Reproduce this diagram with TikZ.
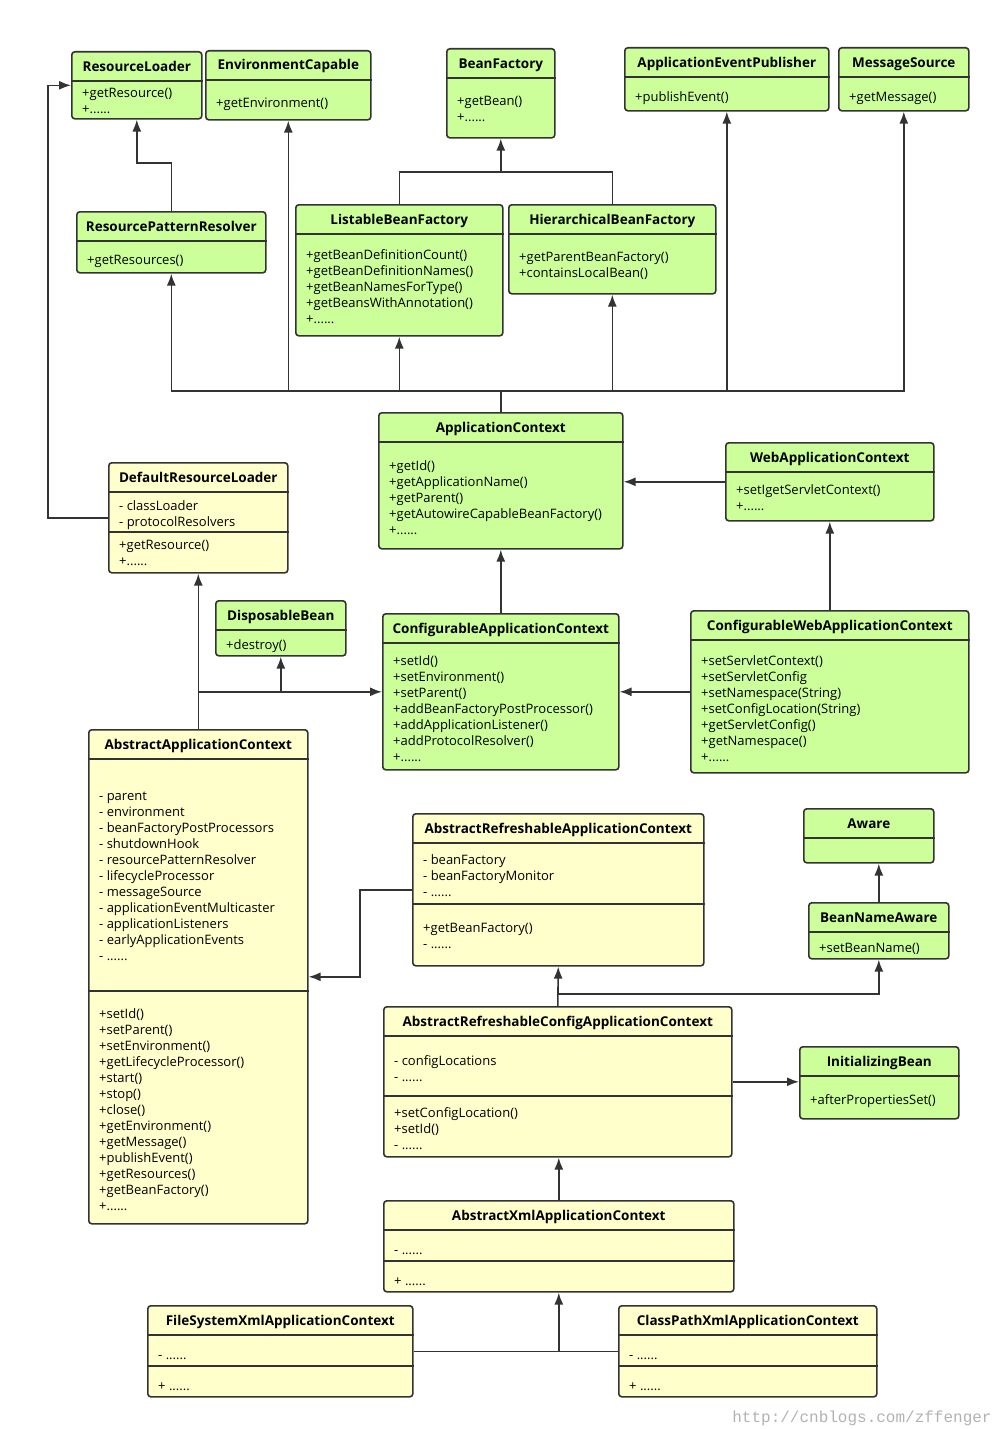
\documentclass[tikz,border=0pt]{standalone}
\usepackage{fontspec}
\setmainfont{Open Sans}
\setmonofont{Liberation Mono}
\usetikzlibrary{arrows.meta,calc,positioning}

\definecolor{ifacegreen}{RGB}{204,255,153}
\definecolor{classyellow}{RGB}{255,255,204}
\definecolor{umlline}{RGB}{51,51,51}

% box, title and header line of one class
\newcommand{\umlclass}[7]{%
  \node[#2, minimum width=#5, minimum height=#6] (#1) at (#3,#4) {};
  \node[classname] (#1-title) at ([yshift=-17]#1.north) {#7};
  \draw[compartment] ([yshift=-30]#1.north west) -- ([yshift=-30]#1.north east);
}
% one more line across the box, #2 below its top
\newcommand{\umlsep}[2]{%
  \draw[compartment] ([yshift=-#2]#1.north west) -- ([yshift=-#2]#1.north east);
}
% attributes or operations, #2 = middle of the first line below the top
\newcommand{\umlmembers}[3]{%
  \node[members] (#1-m#2) at ([shift={(11,#2-3.5)}]#1.north west) {#3};
}

\begin{document}
\begin{tikzpicture}[
    x=1pt, y=-1pt,
    arrowstyle/.style={draw=umlline, line width=1.6pt, -{Latex[length=12pt,width=9pt]}},
    connector/.style={draw=umlline, line width=1.6pt},
    iface/.style={rectangle, draw=umlline, line width=1.6pt, fill=ifacegreen,
        rounded corners=3pt, anchor=north west, inner sep=0pt},
    impl/.style={iface, fill=classyellow},
    classname/.style={font=\bfseries\fontsize{13.5}{15}\selectfont, text height=9pt, text depth=3pt},
    compartment/.style={draw=umlline, line width=1.6pt},
    members/.style={anchor=north west, inner sep=0pt, align=left,
        font=\fontsize{13}{16}\selectfont, execute at begin node=\strut},
    watermark/.style={font=\ttfamily\fontsize{16}{16}\selectfont, text=black!30}
]
\useasboundingbox (0,0) rectangle (1000,1429);

\umlclass{RL}{iface}{71}{51}{130}{67}{ResourceLoader}
\umlmembers{RL}{41}{+getResource()\\+......}
\umlclass{EC}{iface}{205}{50}{165}{69}{EnvironmentCapable}
\umlmembers{EC}{50}{+getEnvironment()}
\umlclass{BF}{iface}{446}{48}{108}{89}{BeanFactory}
\umlmembers{BF}{52}{+getBean()\\+......}
\umlclass{AEP}{iface}{624}{47}{204}{63}{ApplicationEventPublisher}
\umlmembers{AEP}{47}{+publishEvent()}
\umlclass{MS}{iface}{838}{47}{130}{63}{MessageSource}
\umlmembers{MS}{47}{+getMessage()}

\umlclass{RPR}{iface}{76}{211}{189}{61}{ResourcePatternResolver}
\umlmembers{RPR}{46}{+getResources()}
\umlclass{LBF}{iface}{295}{204}{207}{131}{ListableBeanFactory}
\umlmembers{LBF}{49}{+getBeanDefinitionCount()\\+getBeanDefinitionNames()\\+getBeanNamesForType()\\+getBeansWithAnnotation()\\+......}
\umlclass{HBF}{iface}{508}{204}{207}{89}{HierarchicalBeanFactory}
\umlmembers{HBF}{52}{+getParentBeanFactory()\\+containsLocalBean()}

\umlclass{AC}{iface}{378}{412}{244}{136}{ApplicationContext}
\umlmembers{AC}{52}{+getId()\\+getApplicationName()\\+getParent()\\+getAutowireCapableBeanFactory()\\+......}
\umlclass{WAC}{iface}{725}{442}{208}{78}{WebApplicationContext}
\umlmembers{WAC}{46}{+setIgetServletContext()\\+......}
\umlclass{DRL}{impl}{108}{462}{179}{110}{DefaultResourceLoader}
\umlmembers{DRL}{42}{- classLoader\\- protocolResolvers}
\umlsep{DRL}{70}
\umlmembers{DRL}{82}{+getResource()\\+......}

\umlclass{DB}{iface}{215}{600}{130}{55}{DisposableBean}
\umlmembers{DB}{42}{+destroy()}
\umlclass{CAC}{iface}{382}{613}{236}{156}{ConfigurableApplicationContext}
\umlmembers{CAC}{46}{+setId()\\+setEnvironment()\\+setParent()\\+addBeanFactoryPostProcessor()\\+addApplicationListener()\\+addProtocolResolver()\\+......}
\umlclass{CWAC}{iface}{690}{610}{278}{162}{ConfigurableWebApplicationContext}
\umlmembers{CWAC}{49}{+setServletContext()\\+setServletConfig\\+setNamespace(String)\\+setConfigLocation(String)\\+getServletConfig()\\+getNamespace()\\+......}

\umlclass{AAC}{impl}{88}{729}{219}{494}{AbstractApplicationContext}
\umlmembers{AAC}{66}{- parent\\- environment\\- beanFactoryPostProcessors\\- shutdownHook\\- resourcePatternResolver\\- lifecycleProcessor\\- messageSource\\- applicationEventMulticaster\\- applicationListeners\\- earlyApplicationEvents\\- ......}
\umlsep{AAC}{262}
\umlmembers{AAC}{283}{+setId()\\+setParent()\\+setEnvironment()\\+getLifecycleProcessor()\\+start()\\+stop()\\+close()\\+getEnvironment()\\+getMessage()\\+publishEvent()\\+getResources()\\+getBeanFactory()\\+......}

\umlclass{ARAC}{impl}{412}{813}{291}{152}{AbstractRefreshableApplicationContext}
\umlmembers{ARAC}{45}{- beanFactory\\- beanFactoryMonitor\\- ......}
\umlsep{ARAC}{91}
\umlmembers{ARAC}{114}{+getBeanFactory()\\- ......}
\umlclass{Aware}{iface}{803}{808}{130}{54}{Aware}
\umlclass{BNA}{iface}{808}{902}{140}{56}{BeanNameAware}
\umlmembers{BNA}{43}{+setBeanName()}

\umlclass{ARCAC}{impl}{383}{1006}{348}{150}{AbstractRefreshableConfigApplicationContext}
\umlmembers{ARCAC}{53}{- configLocations\\- ......}
\umlsep{ARCAC}{90}
\umlmembers{ARCAC}{105}{+setConfigLocation()\\+setId()\\- ......}
\umlclass{IB}{iface}{799}{1046}{159}{72}{InitializingBean}
\umlmembers{IB}{51}{+afterPropertiesSet()}

\umlclass{AXAC}{impl}{383}{1200}{350}{91}{AbstractXmlApplicationContext}
\umlmembers{AXAC}{47}{- ......}
\umlsep{AXAC}{61}
\umlmembers{AXAC}{78}{+ ......}
\umlclass{FSXAC}{impl}{147}{1305}{265}{91}{FileSystemXmlApplicationContext}
\umlmembers{FSXAC}{47}{- ......}
\umlsep{FSXAC}{61}
\umlmembers{FSXAC}{78}{+ ......}
\umlclass{CPXAC}{impl}{618}{1305}{258}{91}{ClassPathXmlApplicationContext}
\umlmembers{CPXAC}{47}{- ......}
\umlsep{CPXAC}{61}
\umlmembers{CPXAC}{78}{+ ......}

% inheritance
\draw[arrowstyle] (RPR.north) -- ++(0,-48) -| (RL.south);
\draw[arrowstyle] (DRL.west) -- ++(-60,0) |- (RL.west);
\draw[connector] (LBF.north) -- ++(0,-32) coordinate (bfbus) -| (HBF.north);
\draw[arrowstyle] (bfbus -| BF.south) -- (BF.south);

\draw[connector] (AC.north) -- ++(0,-21) coordinate (acbus);
\foreach \parent in {RPR, EC, LBF, HBF, AEP, MS}
  \draw[arrowstyle] (acbus) -| (\parent.south);

\draw[arrowstyle] (WAC.west) -- (WAC.west -| AC.east);
\draw[arrowstyle] (CAC.north) -- (AC.south);
\draw[arrowstyle] (CWAC.north) -- (WAC.south);
\draw[arrowstyle] (CWAC.west) -- (CWAC.west -| CAC.east);

\draw[arrowstyle] (AAC.north) -- (DRL.south);
\draw[arrowstyle] (AAC.north |- CAC.west) -- (CAC.west);
\draw[arrowstyle] (DB.south |- CAC.west) -- (DB.south);

\draw[arrowstyle] (ARAC.west) -- ++(-52,0) |- (AAC.east);
\draw[arrowstyle] (ARCAC.north) -- (ARAC.south);
\draw[arrowstyle] ([yshift=12]ARCAC.north) -| (BNA.south);
\draw[arrowstyle] (BNA.north) -- (BNA.north |- Aware.south);
\draw[arrowstyle] (ARCAC.east) -- (ARCAC.east -| IB.west);

\draw[arrowstyle] (AXAC.north) -- (AXAC.north |- ARCAC.south);
\draw[connector] (FSXAC.east) -- (CPXAC.west);
\draw[arrowstyle] (FSXAC.east -| AXAC.south) -- (AXAC.south);

\node[watermark] (wm) at (862,1418) {http://cnblogs.com/zffenger};
\end{tikzpicture}
\end{document}
